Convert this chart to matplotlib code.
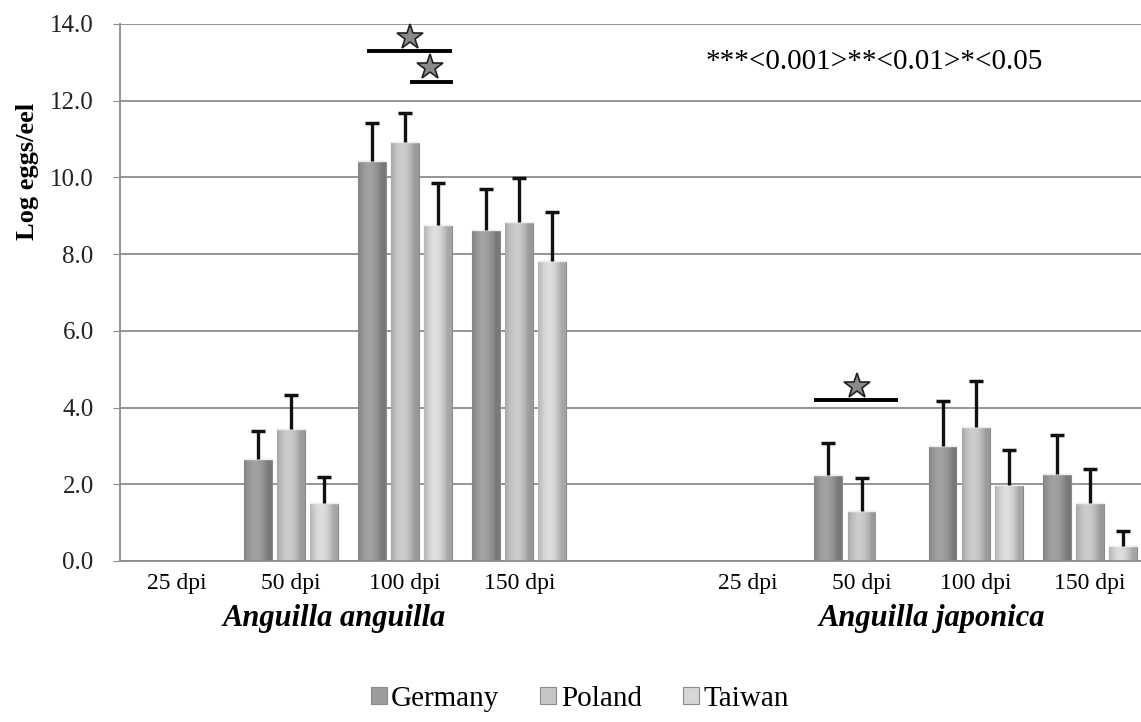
import numpy as np
import matplotlib
matplotlib.use('Agg')
import matplotlib.pyplot as plt

plt.rcParams['font.family'] = ['Liberation Serif', 'DejaVu Serif']

# categories (index 4 is an empty spacer between the species)
dpi_labels = ['25 dpi', '50 dpi', '100 dpi', '150 dpi', '',
              '25 dpi', '50 dpi', '100 dpi', '150 dpi']
species = ['Anguilla anguilla', 'Anguilla japonica']
countries = ['Germany', 'Poland', 'Taiwan']

germany = [0, 2.65, 10.42, 8.64, 0, 0, 2.23, 3.0, 2.28]
poland = [0, 3.43, 10.92, 8.84, 0, 0, 1.31, 3.49, 1.5]
taiwan = [0, 1.52, 8.76, 7.81, 0, 0, 0, 1.98, 0.39]
germany_err = [0, 0.75, 1.0, 1.05, 0, 0, 0.85, 1.16, 1.0]
poland_err = [0, 0.89, 0.77, 1.14, 0, 0, 0.86, 1.2, 0.91]
taiwan_err = [0, 0.66, 1.09, 1.29, 0, 0, 0, 0.91, 0.39]

# significance bars: (x0, x1, y, star x, star y)
sig_lines = [(1.68, 2.39, 13.3, 2.04, 13.67),
             (2.06, 2.40, 12.5, 2.22, 12.87),
             (5.60, 6.30, 4.2, 5.96, 4.55)]

x = np.arange(len(dpi_labels))
means = [germany, poland, taiwan]
errs = [germany_err, poland_err, taiwan_err]
base_cols = ['#9c9c9c', '#c6c6c6', '#d6d6d6']
offsets = [-0.29, 0, 0.29]
bw = 0.245

fig = plt.figure(figsize=(11.41, 7.22), dpi=100)
ax = fig.add_axes([0.1052, 0.223, 0.8948, 0.7438])
ax.set_xlim(-0.5, 8.45)
ax.set_ylim(0, 14)

ax.set_yticks(np.arange(0, 14.1, 2))
ax.set_yticklabels(['%.1f' % v for v in np.arange(0, 14.1, 2)], fontsize=18,
                   color='#222222')
ax.yaxis.grid(True, color='#8c8c8c', linewidth=1.3)
ax.set_axisbelow(True)
for s in ['top', 'right']:
    ax.spines[s].set_visible(False)
ax.spines['left'].set_color('#8c8c8c')
ax.spines['bottom'].set_color('#8c8c8c')
ax.spines['left'].set_linewidth(1.3)
ax.spines['bottom'].set_linewidth(1.3)
ax.tick_params(axis='y', color='#8c8c8c', length=5, pad=14)
ax.tick_params(axis='x', length=0, pad=9)
ax.set_xticks(x)
ax.set_xticklabels(dpi_labels, fontsize=17)
ax.set_ylabel('Log eggs/eel', fontsize=19, fontweight='bold')
ax.yaxis.set_label_coords(-0.079, 0.725)


def shade(c):
    # horizontal gradient to mimic the bevelled bars
    rgb = np.array(matplotlib.colors.to_rgb(c))
    t = np.linspace(0, 1, 40)
    prof = 0.85 + 0.22 * np.sin(np.pi * np.clip(t * 1.15, 0, 1)) - 0.08 * t
    img = np.clip(rgb[None, :] * prof[:, None], 0, 1)
    return img[None, :, :]


handles = []
for k in range(3):
    bars = ax.bar(x + offsets[k], means[k], bw, color=base_cols[k],
                  edgecolor='#8a8a8a', linewidth=0.8, label=countries[k], zorder=2)
    handles.append(bars)
    for b, v, e in zip(bars, means[k], errs[k]):
        if v <= 0:
            continue
        im = ax.imshow(shade(base_cols[k]), extent=[b.get_x(), b.get_x() + bw, 0, v],
                       aspect='auto', zorder=2.5)
        im.set_clip_path(b)
        ax.plot([b.get_x(), b.get_x() + bw], [v, v], color='#eeeeee', lw=1, zorder=2.6)
        eb = ax.errorbar(b.get_x() + bw / 2, v, yerr=[[0], [e]], color='#111111',
                         capsize=5, capthick=2.5, elinewidth=2.4, zorder=3)
        eb[1][0].set_visible(False)
ax.set_xlim(-0.5, 8.45)
ax.set_ylim(0, 14)

for x0, x1, y, sx, sy in sig_lines:
    ax.plot([x0, x1], [y, y], color='black', lw=2.8, clip_on=False, zorder=4)
    ax.plot(sx, sy, marker='*', markersize=19, markerfacecolor='#8a8a8a',
            markeredgecolor='#222222', markeredgewidth=1.2, clip_on=False, zorder=4)

ax.text(0.574, 0.93, '***<0.001>**<0.01>*<0.05', transform=ax.transAxes,
        fontsize=21, va='center', ha='left')

# species labels under the dpi labels
ax.text(1.38, -0.107, species[0], transform=ax.get_xaxis_transform(),
        fontsize=22, fontstyle='italic', fontweight='bold', ha='center', va='center')
ax.text(6.62, -0.107, species[1], transform=ax.get_xaxis_transform(),
        fontsize=22, fontstyle='italic', fontweight='bold', ha='center', va='center')

fig.legend(handles=handles, labels=countries, loc='center', bbox_to_anchor=(0.508, 0.032),
           ncol=3, frameon=False, fontsize=21, handlelength=0.55, handleheight=0.55,
           handletextpad=0.15, columnspacing=1.4)

fig.savefig('out.png', dpi=100)
